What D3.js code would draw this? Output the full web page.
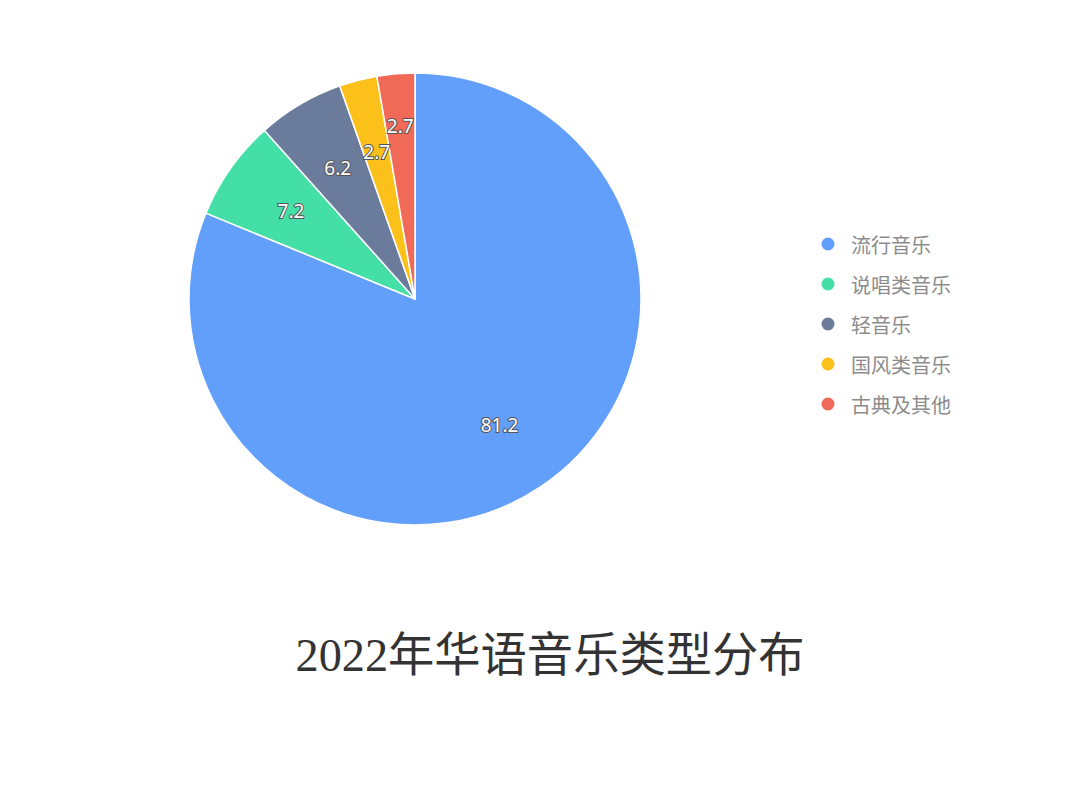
<!DOCTYPE html>
<html>
<head>
<meta charset="utf-8">
<script src="https://cdn.jsdelivr.net/npm/d3@7"></script>
<style>
  html, body { margin: 0; padding: 0; background: #fff; }
  svg { display: block; }
</style>
</head>
<body>
<svg id="chart" width="1080" height="796"></svg>
<script>
// ── Data ─────────────────────────────────
const categories = ['流行音乐', '说唱类音乐', '轻音乐', '国风类音乐', '古典及其他'];
const values = [81.2, 7.2, 6.2, 2.7, 2.7];
const colors = ['#629FFB', '#43DFA7', '#6A7B9C', '#FBC019', '#F06A57'];
const title = '2022年华语音乐类型分布';

// ── Layout ───────────────────────────────
const svg = d3.select('#chart');
const cx = 415, cy = 299, R = 226;

const pieData = d3.pie().sort(null).value(d => d)(values);
const arc = d3.arc().innerRadius(0).outerRadius(R);

const g = svg.append('g').attr('transform', `translate(${cx},${cy})`);

g.selectAll('path.slice')
  .data(pieData)
  .join('path')
  .attr('class', 'slice')
  .attr('d', arc)
  .attr('fill', (d, i) => colors[i])
  .attr('stroke', '#fff')
  .attr('stroke-width', 1.5)
  .attr('stroke-linejoin', 'round');

// Inside labels, pushed outward when they collide
const labelR = R * 0.672;
const labels = g.selectAll('text.lbl')
  .data(pieData)
  .join('text')
  .attr('class', 'lbl')
  .attr('text-anchor', 'middle')
  .attr('dominant-baseline', 'central')
  .attr('font-family', '"Noto Sans", sans-serif')
  .attr('font-size', 19)
  .attr('fill', '#fff')
  .attr('stroke', '#555')
  .attr('stroke-width', 2)
  .attr('paint-order', 'stroke')
  .text(d => d.data);

const placed = [];
labels.each(function(d) {
  const a = (d.startAngle + d.endAngle) / 2;
  let r = labelR;
  const el = d3.select(this);
  const put = () => el.attr('x', Math.sin(a) * r).attr('y', -Math.cos(a) * r);
  put();
  let box = this.getBBox();
  const hit = b => placed.some(p => b.x < p.x + p.width && b.x + b.width > p.x && b.y < p.y + p.height && b.y + b.height > p.y);
  let guard = 0;
  while (hit(box) && guard++ < 80) { r += 1; put(); box = this.getBBox(); }
  placed.push(box);
});

// ── Legend ───────────────────────────────
const legend = svg.append('g').attr('transform', 'translate(828,244)');
const item = legend.selectAll('g')
  .data(categories)
  .join('g')
  .attr('transform', (d, i) => `translate(0,${i * 40})`);
item.append('circle').attr('r', 6.5).attr('fill', (d, i) => colors[i]);
item.append('text')
  .attr('x', 23)
  .attr('dominant-baseline', 'central')
  .attr('font-family', '"Noto Sans CJK SC", sans-serif')
  .attr('font-size', 20)
  .attr('fill', '#8c8c8c')
  .text(d => d);

// ── Title ────────────────────────────────
svg.append('text')
  .attr('x', 550)
  .attr('y', 671)
  .attr('text-anchor', 'middle')
  .attr('font-family', '"Liberation Serif", "Noto Sans CJK SC", serif')
  .attr('font-size', 47)
  .attr('fill', '#333')
  .attr('textLength', 509)
  .attr('lengthAdjust', 'spacingAndGlyphs')
  .text(title);
</script>
</body>
</html>
